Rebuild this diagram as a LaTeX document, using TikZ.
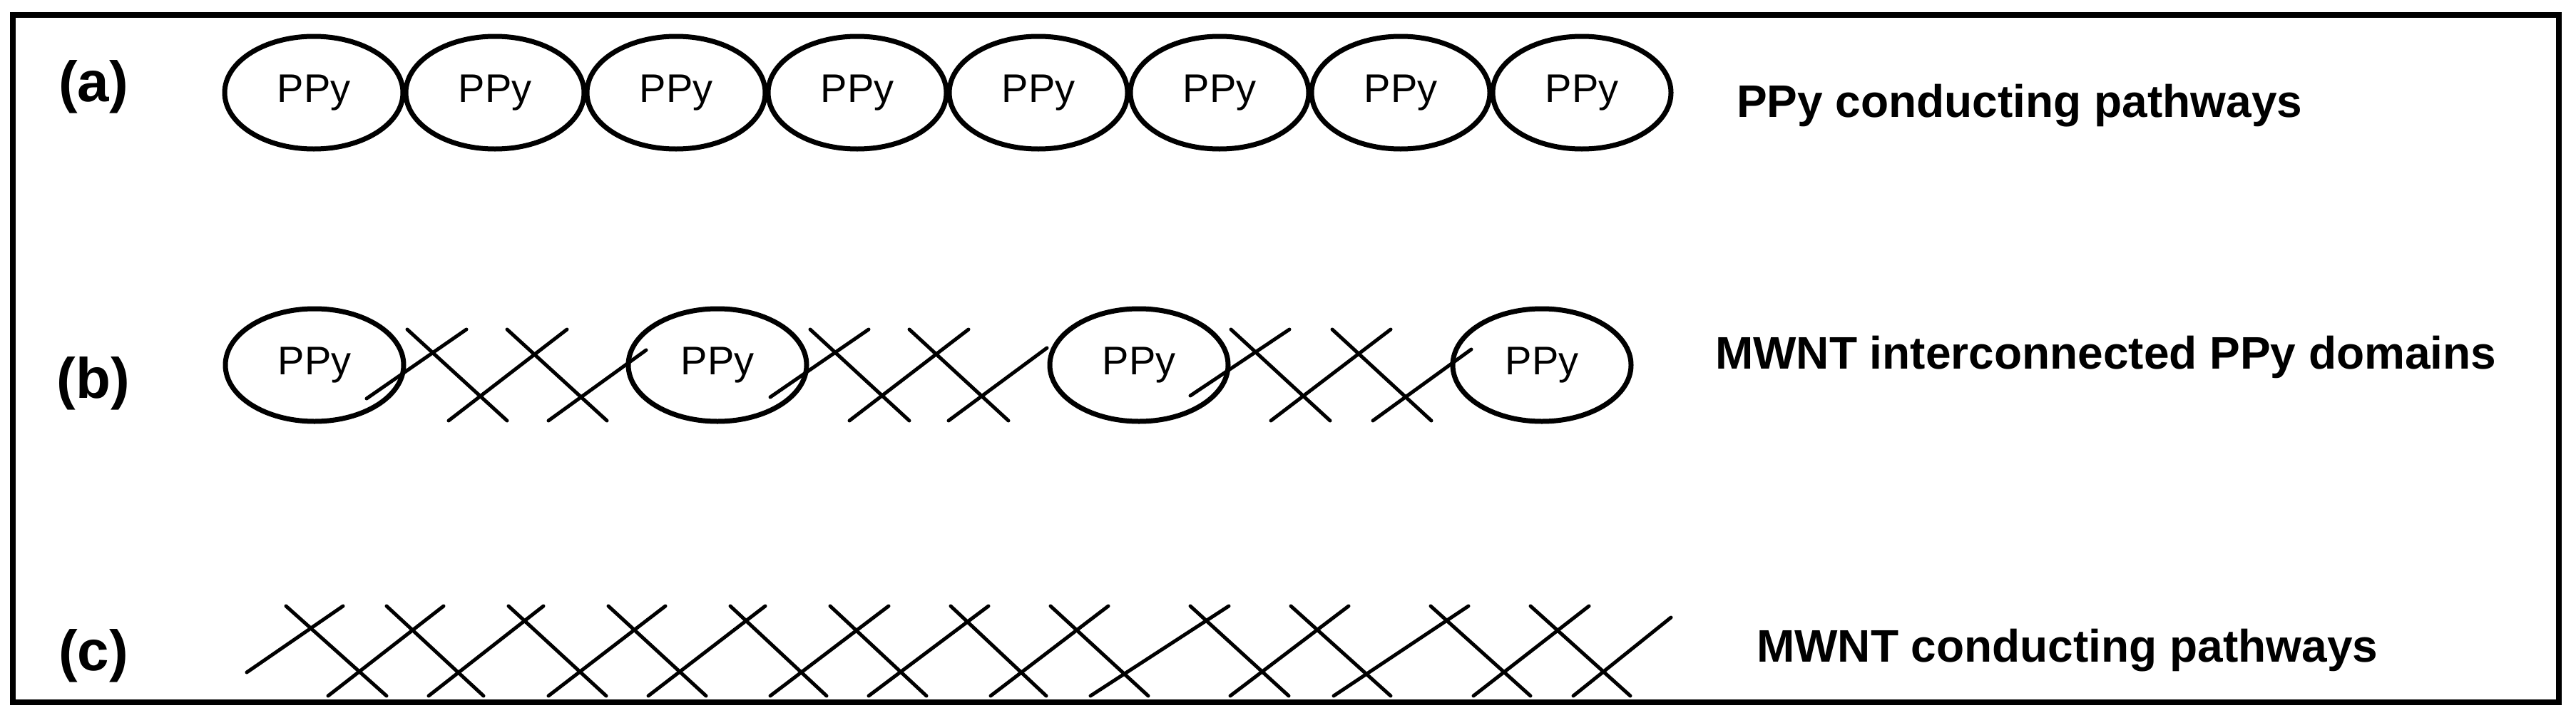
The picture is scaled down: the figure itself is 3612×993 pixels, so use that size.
\documentclass[tikz,border=0pt]{standalone}
\usepackage{fontspec}
\setmainfont{Liberation Sans}
\usetikzlibrary{shapes.geometric}
\begin{document}
\begin{tikzpicture}[x=1pt,y=-1pt,
  ppy/.style={ellipse,draw,line width=7pt,minimum width=250pt,minimum height=158pt,inner sep=0pt,font=\fontsize{56}{60}\selectfont},
  tube/.style={line width=5pt,line cap=round},
  lab/.style={font=\bfseries\fontsize{80}{90}\selectfont,inner sep=0pt},
  desc/.style={font=\bfseries\fontsize{64}{70}\selectfont,inner sep=0pt,anchor=west}]
\useasboundingbox (0,0) rectangle (3612,993);
\draw[line width=8pt] (18,21) rectangle (3588,985);
% labels
\node[lab] (la) at (131,122) {(a)};
\node[lab] (lb) at (131,538) {(b)};
\node[lab] (lc) at (131,920) {(c)};
% row a
\foreach \i in {0,...,7}{
  \node[ppy] (a\i) at ({440+254*\i},130) {PPy};
}
\node[desc] (da) at (2435,148) {PPy conducting pathways};
% row b
\foreach \x [count=\i] in {441,1006,1597,2162}{
  \node[ppy] (b\i) at (\x,512) {PPy};
}
\foreach \p/\q in {514/559,654/462, 571/462,711/590, 629/590,795/462, 711/462,851/590, 769/590,906/491,
  1080/557,1218/462, 1136/462,1275/590, 1191/590,1358/462, 1275/462,1414/590, 1330/590,1468/488,
  1669/555,1808/462, 1726/462,1865/590, 1782/590,1950/462, 1868/462,2007/590, 1925/590,2063/490}{}
\foreach \xa/\ya/\xb/\yb in {514/559/654/462, 571/462/711/590, 629/590/795/462, 711/462/851/590, 769/590/906/491,
  1080/557/1218/462, 1136/462/1275/590, 1191/590/1358/462, 1275/462/1414/590, 1330/590/1468/488,
  1669/555/1808/462, 1726/462/1865/590, 1782/590/1950/462, 1868/462/2007/590, 1925/590/2063/490}{
  \draw[tube] (\xa,\ya) -- (\xb,\yb);
}
\node[desc] (db) at (2405,501) {MWNT interconnected PPy domains};
% row c
\draw[tube] (346,943) -- (481,850);
\foreach \xa/\xb in {460/622, 601/762, 769/933, 909/1073, 1080/1246, 1218/1386, 1389/1554, 1529/1723, 1725/1891, 1870/2059, 2066/2228}{
  \draw[tube] (\xa,976) -- (\xb,850);
}
\draw[tube] (2206,976) -- (2343,866);
\foreach \xa/\xb in {401/542, 542/678, 713/850, 853/990, 1024/1159, 1164/1299, 1333/1467, 1473/1610, 1669/1807, 1810/1950, 2006/2146, 2146/2286}{
  \draw[tube] (\xa,850) -- (\xb,976);
}
\node[desc] (dc) at (2463,912) {MWNT conducting pathways};
\end{tikzpicture}
\end{document}
